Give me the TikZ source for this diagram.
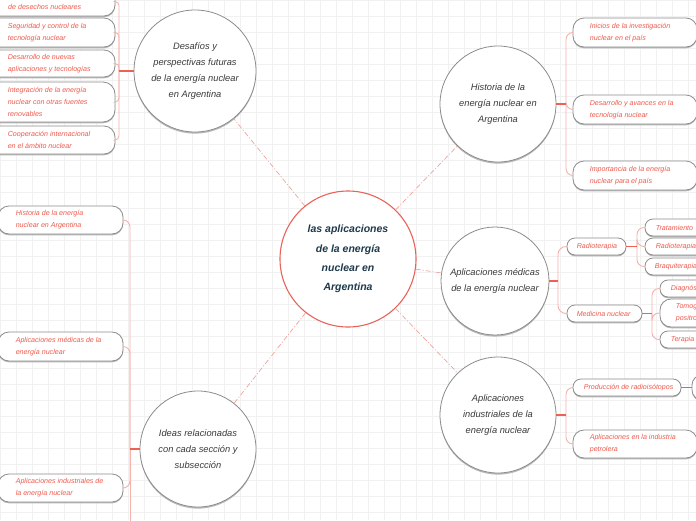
\documentclass[tikz,border=0pt]{standalone}
\usepackage{fontspec}
\setmainfont{Liberation Sans}
\usetikzlibrary{fit,shadows}
\definecolor{subred}{HTML}{EE5A4C}
\definecolor{boxgray}{HTML}{8C8C8C}
\definecolor{trunkpink}{HTML}{F6B2AA}
\definecolor{juncred}{HTML}{EC6155}
\definecolor{dashpink}{HTML}{F2A39C}
\definecolor{navy}{HTML}{1E3A4C}
\definecolor{circtxt}{HTML}{3A3A3A}
\definecolor{gridc}{HTML}{F1F1F1}
\definecolor{centred}{HTML}{E8645A}
\tikzset{
  box/.style={draw=boxgray, line width=0.8pt, fill=white, inner sep=0pt,
    general shadow={fill=black!28, shadow yshift=-1.3pt}},
  subtxt/.style={text=subred, font=\fontsize{7.1}{12}\selectfont\itshape, align=left, inner sep=0pt},
  circ/.style={circle, draw=boxgray, line width=0.8pt, fill=white, inner sep=0pt,
    text=circtxt, align=center, font=\fontsize{9.3}{16.3}\selectfont\itshape,
    general shadow={fill=black!28, shadow yshift=-1.6pt}},
  centrec/.style={circle, draw=centred, line width=1.1pt, fill=white, inner sep=0pt,
    text=navy, align=center, font=\fontsize{10.5}{19.3}\selectfont\bfseries\itshape},
  dashc/.style={draw=dashpink, line width=0.7pt, dash pattern=on 5pt off 2pt on 1pt off 2pt},
  trunk/.style={draw=trunkpink, line width=0.9pt},
  junc/.style={draw=juncred, line width=1.2pt},
}
\newcommand\mkbox[8]{%
  \node[box, rounded corners=#6, fit={(#2,#3) (#4,#5)}] (#1) {};
  \node[subtxt, anchor=west] (#1t) at ([xshift=#7pt]#1.west) {#8};
}
\begin{document}
\begin{tikzpicture}[x=1pt,y=-1pt]
\useasboundingbox (0,0) rectangle (696,520);
\clip (0,0) rectangle (696,520);
\fill[white] (0,0) rectangle (696,520);
\draw[gridc, line width=0.5pt, step=16pt] (0,0) grid (696,520);

% circles
\node[centrec, minimum size=136pt] (c) at (348,259) {las aplicaciones\\de la energía\\nuclear en\\Argentina};
\node[circ, minimum size=122pt] (des) at (195,71) {Desafíos y\\perspectivas futuras\\de la energía nuclear\\en Argentina};
\node[circ, minimum size=116pt] (his) at (498,104) {Historia de la\\energía nuclear en\\Argentina};
\node[circ, minimum size=108pt] (med) at (495,281) {Aplicaciones médicas\\de la energía nuclear};
\node[circ, minimum size=116pt] (ind) at (498,415) {Aplicaciones\\industriales de la\\energía nuclear};
\node[circ, minimum size=116pt] (ide) at (198,449) {Ideas relacionadas\\con cada sección y\\subsección};

% dashed connectors
\begin{scope}[on background layer/.style={}]
\draw[dashc] (c) -- (des);
\draw[dashc] (c) -- (his);
\draw[dashc] (c) -- (med);
\draw[dashc] (c) -- (ind);
\draw[dashc] (c) -- (ide);
\end{scope}

% Historia branch
\mkbox{h1}{573}{18}{697}{47}{11pt}{17}{Inicios de la investigación\\nuclear en el país}
\mkbox{h2}{573}{95}{697}{124}{11pt}{17}{Desarrollo y avances en la\\tecnología nuclear}
\mkbox{h3}{573}{161}{697}{190}{11pt}{17}{Importancia de la energía\\nuclear para el país}
\coordinate (hj) at (566,104);
\draw[trunk, rounded corners=7pt] (hj) |- (h1.west);
\draw[trunk, rounded corners=7pt] (hj) |- (h2.west);
\draw[trunk, rounded corners=7pt] (hj) |- (h3.west);
\draw[junc] (his.east) -- (hj);

% Medicas branch
\mkbox{m1}{567}{238}{626}{255}{8pt}{10}{Radioterapia}
\mkbox{m2}{567}{305}{642}{322}{8pt}{10}{Medicina nuclear}
\coordinate (mj) at (558,281);
\draw[trunk, rounded corners=8pt] (mj) |- (m1.west);
\draw[trunk, rounded corners=8pt] (mj) |- (m2.west);
\draw[junc] (med.east) -- (mj);

\mkbox{r1}{645}{219}{730}{236}{8pt}{11}{Tratamiento}
\mkbox{r2}{645}{238}{730}{255}{8pt}{11}{Radioterapia}
\mkbox{r3}{645}{258}{730}{275}{8pt}{10}{Braquiterapia}
\coordinate (rj) at (637,246.5);
\draw[trunk, rounded corners=7pt] (rj) |- (r1.west);
\draw[trunk, rounded corners=7pt] (rj) |- (r2.west);
\draw[trunk, rounded corners=7pt] (rj) |- (r3.west);
\draw[junc] (m1.east) -- (rj);

\mkbox{n1}{660}{280}{730}{297}{8pt}{11}{Diagnóstico}
\mkbox{n2}{660}{299}{730}{327}{11pt}{16}{Tomografía por emisión de\\positrones}
\mkbox{n3}{660}{331}{730}{348}{8pt}{11}{Terapia}
\coordinate (nj) at (652,313.5);
\draw[trunk, rounded corners=7pt] (nj) |- (n1.west);
\draw[trunk, rounded corners=7pt] (nj) |- (n2.west);
\draw[trunk, rounded corners=7pt] (nj) |- (n3.west);
\draw[junc] (m2.east) -- (nj);

% Industrial branch
\mkbox{i1}{573}{379}{681}{396}{8pt}{11}{Producción de radioisótopos}
\node[box, rounded corners=10pt, fit={(692,375) (760,400)}] (i1a) {};
\mkbox{i2}{573}{430}{697}{458}{11pt}{17}{Aplicaciones en la industria\\petrolera}
\coordinate (ij) at (566,415);
\draw[trunk, rounded corners=7pt] (ij) |- (i1.west);
\draw[trunk, rounded corners=7pt] (ij) |- (i2.west);
\draw[junc] (ind.east) -- (ij);
\draw[junc] (i1.east) -- (i1a.west);

% Ideas branch (left column)
\mkbox{l1}{-2}{206}{123}{234}{11pt}{18}{Historia de la energía\\nuclear en Argentina}
\mkbox{l2}{-2}{332}{123}{361}{11pt}{18}{Aplicaciones médicas de la\\energía nuclear}
\mkbox{l3}{-2}{474}{123}{502}{11pt}{18}{Aplicaciones industriales de\\la energía nuclear}
\coordinate (lj) at (130,449);
\coordinate (lend) at (130,530);
\draw[trunk, rounded corners=7pt] (lj) |- (l1.east);
\draw[trunk, rounded corners=7pt] (lj) |- (l2.east);
\draw[trunk, rounded corners=7pt] (lj) |- (l3.east);
\draw[trunk] (lj) -- (lend);
\draw[junc] (ide.west) -- (lj);

% Desafios branch (left top)
\node[box, rounded corners=11pt, fit={(-40,-13) (115,16)}] (d0) {};
\node[subtxt, anchor=west] (d0t) at (8,7) {de desechos nucleares};
\mkbox{d1}{-40}{18}{115}{47}{11pt}{48}{Seguridad y control de la\\tecnología nuclear}
\mkbox{d2}{-40}{50}{115}{77}{11pt}{48}{Desarrollo de nuevas\\aplicaciones y tecnologías}
\mkbox{d3}{-40}{82}{115}{122}{12pt}{48}{Integración de la energía\\nuclear con otras fuentes\\renovables}
\mkbox{d4}{-40}{126}{115}{154}{11pt}{48}{Cooperación internacional\\en el ámbito nuclear}
\coordinate (dj) at (119,71);
\draw[trunk, rounded corners=4pt] (dj) |- (d0.east);
\draw[trunk, rounded corners=4pt] (dj) |- (d1.east);
\draw[trunk, rounded corners=4pt] (dj) |- (d2.east);
\draw[trunk, rounded corners=4pt] (dj) |- (d3.east);
\draw[trunk, rounded corners=4pt] (dj) |- (d4.east);
\draw[junc] (des.west) -- (dj);
\end{tikzpicture}
\end{document}
